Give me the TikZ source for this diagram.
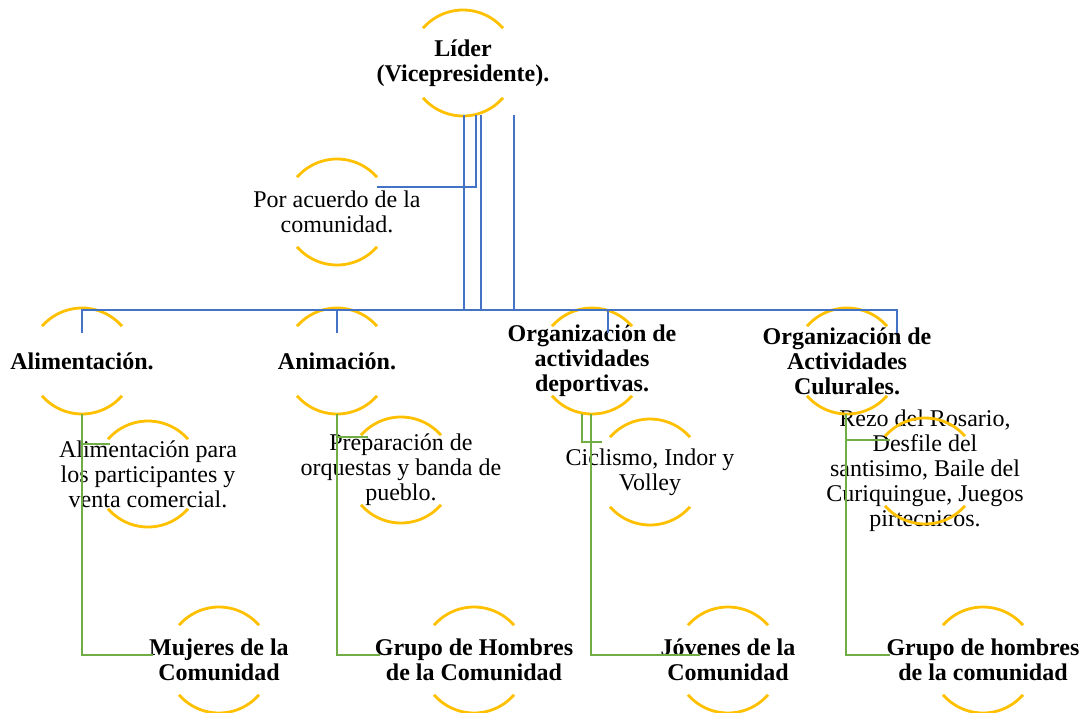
\documentclass[tikz,border=0pt]{standalone}
\usepackage{fontspec}
\setmainfont{Liberation Serif}
\usepackage{xcolor}
\definecolor{ringY}{HTML}{FFC000}
\definecolor{lineB}{HTML}{4472C4}
\definecolor{lineG}{HTML}{70AD47}
\usetikzlibrary{positioning}

% two open arcs round a node centre
\newcommand{\ring}[1]{%
  \draw[ringline] ([shift={(41:26.5pt)}]#1.center) arc[start angle=41,end angle=139,radius=26.5pt];
  \draw[ringline] ([shift={(221:26.5pt)}]#1.center) arc[start angle=221,end angle=319,radius=26.5pt];}

\begin{document}
\begin{tikzpicture}[
      x=0.5pt, y=-0.5pt,
      every node/.style={align=center, inner sep=0pt, font=\fontsize{12}{12.5}\selectfont},
      head/.style={font=\fontsize{12}{12.5}\selectfont\bfseries},
      ringline/.style={draw=ringY, line width=1.4pt},
      bline/.style={draw=lineB, line width=1.4pt},
      gline/.style={draw=lineG, line width=1.4pt}
      ]
      \useasboundingbox (0,0) rectangle (1089,713);

      % top
      \node[head] (lider) at (463,63) {Líder\\(Vicepresidente).};
      \node (acuerdo) at (337,212) {Por acuerdo de la\\comunidad.};

      % areas
      \node[head] (alim) at (82,361) {Alimentación.};
      \node[head] (anim) at (337,361) {Animación.};
      \node[head] (depo) at (592,361) {Organización de\\actividades\\deportivas.};
      \node[head] (cult) at (847,361) {Organización de\\Actividades\\Culurales.};

      % tasks
      \node (alimD) at (148,474) {Alimentación para\\los participantes y\\venta comercial.};
      \node (prep) at (401,470) {Preparación de\\orquestas y banda de\\pueblo.};
      \node (cicl) at (650,472) {Ciclismo, Indor y\\Volley};
      \node (rezo) at (925,471) {Rezo del Rosario,\\Desfile del\\santisimo, Baile del\\Curiquingue, Juegos\\pirtecnicos.};

      % groups
      \node[head] (muj) at (219,660) {Mujeres de la\\Comunidad};
      \node[head] (hom) at (474,660) {Grupo de Hombres\\de la Comunidad};
      \node[head] (jov) at (728,660) {Jóvenes de la\\Comunidad};
      \node[head] (hom2) at (983,660) {Grupo de hombres\\de la comunidad};

      \foreach \n in {lider,acuerdo,alim,anim,depo,cult,alimD,prep,cicl,rezo,muj,hom,jov,hom2}
        {\ring{\n}}

      % blue
      \draw[bline] ([shift={(13,52)}]lider.center) |- ([shift={(40,-25)}]acuerdo.center);
      \draw[bline] ([shift={(1,52)}]lider.center) |- ([shift={(0,-51)}]alim.center) -- ([shift={(0,-28)}]alim.center);
      \draw[bline] ([shift={(18,52)}]lider.center) |- ([shift={(0,-51)}]anim.center) -- ([shift={(0,-28)}]anim.center);
      \draw[bline] ([shift={(51,52)}]lider.center) |- ([shift={(16,-51)}]depo.center) -- ([shift={(16,-28)}]depo.center);
      \draw[bline] ([shift={(18,52)}]lider.center) |- ([shift={(50,-51)}]cult.center) -- ([shift={(50,-28)}]cult.center);

      % green
      \draw[gline] ([shift={(0,53)}]alim.center) |- ([shift={(-66,-5)}]muj.center);
      \draw[gline] ([shift={(0,53)}]alim.center) |- ([shift={(-38,-30)}]alimD.center);
      \draw[gline] ([shift={(0,53)}]anim.center) |- ([shift={(-94,-5)}]hom.center);
      \draw[gline] ([shift={(0,53)}]anim.center) |- ([shift={(-33,-33)}]prep.center);
      \draw[gline] ([shift={(-10,53)}]depo.center) |- ([shift={(-48,-30)}]cicl.center);
      \draw[gline] ([shift={(-1,53)}]depo.center) |- ([shift={(-28,-5)}]jov.center);
      \draw[gline] ([shift={(-1,53)}]cult.center) |- ([shift={(-93,-5)}]hom2.center);
      \draw[gline] ([shift={(-1,53)}]cult.center) |- ([shift={(-35,-31)}]rezo.center);
\end{tikzpicture}
\end{document}
